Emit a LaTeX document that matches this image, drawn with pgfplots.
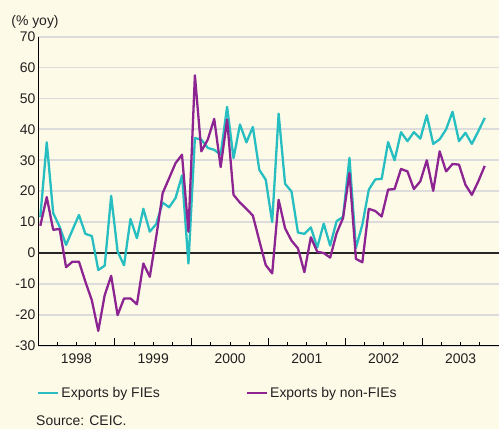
\documentclass[border=0pt]{standalone}
\usepackage{pgfplots}
\usepackage{pgfplotstable}
\pgfplotsset{compat=1.18}
\usepackage{fontspec}
\setmainfont{Liberation Sans}
\definecolor{bg}{RGB}{254,250,232}
\definecolor{fie}{RGB}{38,190,192}
\definecolor{nonfie}{RGB}{140,36,145}
\definecolor{gridc}{RGB}{220,220,220}
\definecolor{txt}{RGB}{35,31,32}
\newcommand\fs{\fontsize{14}{16.5}\selectfont}

\pgfplotstableread{
i fie non
0 11.6 8.8
1 35.8 18.1
2 12.9 7.5
3 8.5 7.8
4 2.6 -4.6
5 7.5 -2.8
6 12.3 -2.8
7 6.2 -9.3
8 5.5 -15.3
9 -5.5 -25.2
10 -4.1 -13.6
11 18.5 -7.4
12 0.5 -20.1
13 -4.0 -14.7
14 11.0 -14.7
15 4.8 -16.6
16 14.3 -3.4
17 6.9 -7.7
18 9.4 5.3
19 16.3 19.4
20 14.8 24.2
21 17.8 29.1
22 25.1 31.8
23 -3.4 6.9
24 37.2 57.5
25 36.7 32.9
26 34.0 36.7
27 33.4 43.4
28 31.8 27.8
29 47.3 43.2
30 30.7 18.8
31 41.6 16.3
32 35.8 14.3
33 40.8 12.1
34 26.9 4.0
35 23.7 -3.9
36 10.0 -6.6
37 45.1 17.2
38 22.4 8.0
39 19.9 4.0
40 6.6 1.5
41 6.2 -6.2
42 8.3 5.1
43 1.8 0.4
44 9.5 0.0
45 2.4 -1.5
46 10.3 6.4
47 11.7 11.3
48 30.8 25.9
49 1.6 -1.9
50 9.2 -3.0
51 20.5 14.3
52 23.8 13.6
53 24.0 11.8
54 35.9 20.5
55 30.0 20.7
56 39.1 27.2
57 36.2 26.4
58 39.1 20.7
59 37.0 23.2
60 44.6 30.0
61 35.3 20.1
62 36.8 32.9
63 40.0 26.4
64 45.7 28.8
65 36.2 28.6
66 38.9 22.1
67 35.3 18.8
68 39.4 23.2
69 43.7 28.2
}\data

\begin{document}
\begin{tikzpicture}[font=\fs, text=txt]
\fill[bg] (-38bp,-83.3bp) rectangle (461bp,345.7bp);
\useasboundingbox (-38bp,-83.3bp) rectangle (461bp,345.7bp);
\begin{axis}[
  at={(0,0)}, anchor=south west,
  scale only axis, width=461bp, height=309bp,
  xmin=0, xmax=72, ymin=-30, ymax=70,
  axis x line*=bottom, axis y line*=left,
  axis line style={black, line width=0.9pt, -},
  ytick={-30,-20,...,70},
  y tick style={draw=none},
  ymajorgrids, major grid style={gridc, line width=1.8pt},
  yticklabel style={font=\fs, text=txt, xshift=1bp},
  xticklabel style={font=\fs, text=txt},
  /pgf/number format/assume math mode=true,
  xtick={12,24,36,48,60}, xticklabels={},
  minor xtick={3,6,9,15,18,21,27,30,33,39,42,45,51,54,57,63,66,69},
  tick align=inside,
  x tick style={black, line width=0.9pt},
  major tick length=8bp, minor tick length=3.5bp,
  extra x ticks={6,18,30,42,54,66},
  extra x tick labels={1998,1999,2000,2001,2002,2003},
  extra x tick style={major tick length=0pt, xticklabel style={yshift=-5bp}},
  extra y ticks={0}, extra y tick labels={},
  extra y tick style={grid=major, major grid style={black!85, line width=1.3pt}},
  legend columns=2,
  legend style={at={(0,0)}, anchor=north west, xshift=-1bp, yshift=-39bp,
    draw=none, fill=none, inner sep=0pt,
    font=\fs, text=txt,
    /tikz/every even column/.append style={column sep=84bp}},
  legend image code/.code={\draw[#1] (0bp,0bp) -- (20bp,0bp);},
  legend cell align=left,
  clip=false,
]
\addplot[fie, line width=2.3pt, line join=round] table[x expr=\thisrow{i}*1.006+0.36, y=fie] {\data};
\addlegendentry{Exports by FIEs}
\addplot[nonfie, line width=2.3pt, line join=round] table[x expr=\thisrow{i}*1.006+0.36, y=non] {\data};
\addlegendentry{Exports by non-FIEs}
\end{axis}
\node at (-3bp,323.7bp) {(\% yoy)};
\node[anchor=west, inner sep=0pt] at (-2bp,-75.3bp) {Source: CEIC.};
\end{tikzpicture}
\end{document}
